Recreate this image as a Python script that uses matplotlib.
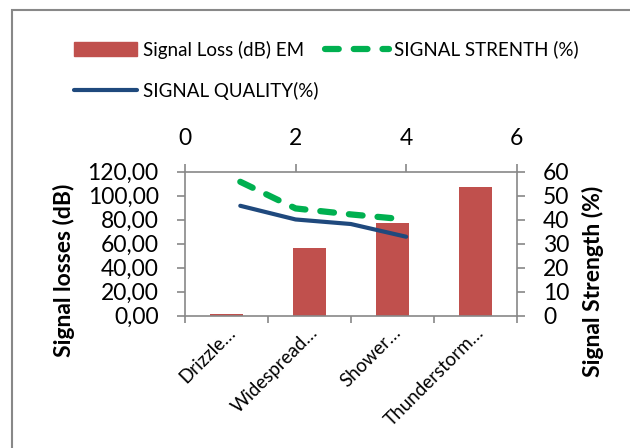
import numpy as np
import matplotlib.pyplot as plt
import matplotlib.transforms as mtransforms
from matplotlib.patches import Rectangle
from matplotlib.lines import Line2D

plt.rcParams['font.family'] = ['Lato', 'DejaVu Sans']

categories = ["Drizzle\u2026", "Widespread\u2026", "Shower\u2026", "Thunderstorm\u2026"]
signal_loss = [1.4, 56.4, 77.2, 107.5]

line_x = [1, 2, 3, 4]
signal_strength = [55.8, 44.7, 42.2, 40.1]
signal_quality = [45.8, 40.1, 38.2, 32.9]

red = "#C0504D"
green = "#00B050"
blue = "#1F497D"
grey = "#888888"

fig = plt.figure(figsize=(6.3, 4.48), dpi=100)
fig.patches.append(Rectangle((12/630, -0.2), 1.2, 1.2 - 10/448,
                             transform=fig.transFigure, fill=False,
                             edgecolor=grey, linewidth=1.5))

pos = [185/630, 1 - 315.7/448, (516.7 - 185)/630, (315.7 - 171.7)/448]
ax = fig.add_axes(pos)
x = np.arange(len(categories))
bars = ax.bar(x, signal_loss, width=0.4, color=red, zorder=2)
ax.set_xlim(-0.5, 3.5)
ax.set_ylim(0, 120)
ax.set_yticks(np.arange(0, 121, 20))
ax.set_yticklabels(["%d,00" % v for v in range(0, 121, 20)])
ax.set_xticks(np.arange(-0.5, 3.6, 1))
ax.set_xticklabels([])
ax.set_xticks(x, minor=True)
ax.set_xticklabels(categories, minor=True, rotation=45, ha='right',
                   va='top', rotation_mode='anchor', fontsize=13.5)
# shift the rotated labels a bit right, like excel does
offset = mtransforms.ScaledTranslation(9/100, 0, fig.dpi_scale_trans)
for lab in ax.xaxis.get_minorticklabels():
    lab.set_transform(lab.get_transform() + offset)
ax.tick_params(axis='x', which='minor', length=0, pad=6)
ax.tick_params(axis='x', which='major', length=5, color=grey, width=1.2)
ax.tick_params(axis='y', length=6, color=grey, width=1.2, pad=13, labelsize=16.5)
for s in ax.spines.values():
    s.set_color(grey)
    s.set_linewidth(1.2)

ax2 = fig.add_axes(pos, frameon=False)
ln_s, = ax2.plot(line_x, signal_strength, color=green, lw=4.5,
                 linestyle=(0, (2.2, 2.4)), dash_capstyle='round', zorder=3)
ln_q, = ax2.plot(line_x, signal_quality, color=blue, lw=3,
                 solid_capstyle='round', zorder=3)
ax2.set_xlim(0, 6)
ax2.set_ylim(0, 60)
ax2.set_xticks([0, 2, 4, 6])
ax2.set_yticks(np.arange(0, 61, 10))
ax2.xaxis.tick_top()
ax2.yaxis.tick_right()
ax2.tick_params(axis='x', length=6, color=grey, width=1.2, pad=10, labelsize=16.5)
ax2.tick_params(axis='y', length=6, color=grey, width=1.2, pad=13, labelsize=16.5)

fig.text(64/630, 1 - 270/448, "Signal losses (dB)", rotation=90,
         ha='center', va='center', fontsize=16.5, fontweight='bold')
fig.text(593/630, 1 - 281/448, "Signal Strength (%)", rotation=90,
         ha='center', va='center', fontsize=16.5, fontweight='bold')

h_bar = Rectangle((0, 0), 1, 1, color=red)
h_s = Line2D([], [], color=green, lw=4.5, linestyle=(0, (2.2, 2.4)),
             dash_capstyle='round')
h_q = Line2D([], [], color=blue, lw=3, solid_capstyle='round')
fig.legend([h_bar, h_q, h_s],
           ["Signal Loss (dB) EM", "SIGNAL QUALITY(%)", "SIGNAL STRENTH (%)"],
           ncol=2, loc='upper left', bbox_to_anchor=(66/630, 1 - 33/448),
           frameon=False, fontsize=13.5, handlelength=3.4, handletextpad=0.3,
           columnspacing=0.35, labelspacing=1.25, borderaxespad=0)

fig.savefig("out.png", dpi=100)
